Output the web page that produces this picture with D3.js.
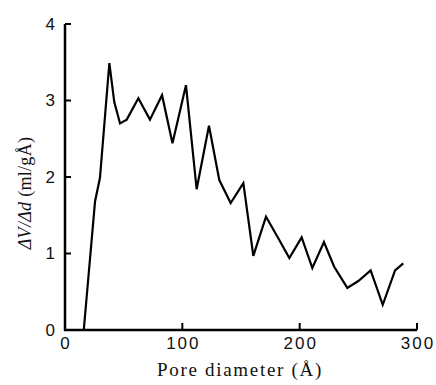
<!DOCTYPE html>
<html>
<head>
<meta charset="utf-8">
<script src="https://cdn.jsdelivr.net/npm/d3@7"></script>
<style>
  html, body { margin: 0; padding: 0; background: #fff; }
  .tick-label { font-family: "Liberation Sans", sans-serif; font-size: 17px; letter-spacing: 2px; fill: #111; }
  .axis-title { font-family: "Liberation Serif", "DejaVu Serif", serif; font-size: 19px; letter-spacing: 1.7px; fill: #111; }
  .y-title { font-family: "Liberation Serif", "DejaVu Serif", serif; font-size: 18px; letter-spacing: 0.3px; fill: #111; }
</style>
</head>
<body>
<div class="chart-container"></div>
<script>
document.addEventListener('DOMContentLoaded', function() {

    // pore diameter (Å) and dV/dd (ml/gÅ)
    const diameters = [0, 16, 25.6, 29.8, 37.8, 42, 46.9, 52.6, 62.5, 72.4, 82.7, 91.6, 103.1, 112.2, 122.7,
        131.5, 141.2, 152, 160.5, 171.3, 181.8, 191.2, 201.7, 210.8, 220.7, 229.3, 240.6, 250, 260.5,
        270.8, 281.3, 288.3];
    const dVdd = [0, 0, 1.68, 1.99, 3.49, 2.98, 2.70, 2.75, 3.03, 2.75, 3.07, 2.44, 3.20, 1.84, 2.67,
        1.96, 1.66, 1.92, 0.97, 1.48, 1.20, 0.94, 1.21, 0.81, 1.15, 0.83, 0.55, 0.64, 0.78,
        0.33, 0.78, 0.87];
    const xTicks = [0, 100, 200, 300];
    const yTicks = [0, 1, 2, 3, 4];

    const width = 436;
    const height = 385;

    const svg = d3.select(".chart-container")
        .append("svg")
        .attr("width", width)
        .attr("height", height);

    const x = d3.scaleLinear().domain([0, 300]).range([65, 417]);
    const y = d3.scaleLinear().domain([0, 4]).range([330, 24]);

    const data = diameters.map((d, i) => [d, dVdd[i]]);

    // curve
    svg.append("path")
        .datum(data)
        .attr("fill", "none")
        .attr("stroke", "#000")
        .attr("stroke-width", 2.2)
        .attr("stroke-linejoin", "miter")
        .attr("d", d3.line().x(d => x(d[0])).y(d => y(d[1])));

    // axes lines
    svg.append("line")
        .attr("x1", x(0)).attr("x2", x(0))
        .attr("y1", y(0) + 1).attr("y2", y(4))
        .attr("stroke", "#000").attr("stroke-width", 2.5);
    svg.append("line")
        .attr("x1", x(0) - 1).attr("x2", x(300))
        .attr("y1", y(0)).attr("y2", y(0))
        .attr("stroke", "#000").attr("stroke-width", 2.5);

    // y ticks (pointing inward)
    svg.append("g")
        .selectAll("line")
        .data(yTicks.slice(1))
        .join("line")
        .attr("x1", x(0)).attr("x2", x(0) + 6)
        .attr("y1", y).attr("y2", y)
        .attr("stroke", "#000").attr("stroke-width", 2);

    svg.append("g")
        .selectAll("text")
        .data(yTicks)
        .join("text")
        .attr("class", "tick-label")
        .attr("x", 57)
        .attr("y", d => y(d))
        .attr("dy", "0.35em")
        .attr("text-anchor", "end")
        .text(d => d);

    // x ticks (pointing up)
    svg.append("g")
        .selectAll("line")
        .data(xTicks.slice(1))
        .join("line")
        .attr("x1", x).attr("x2", x)
        .attr("y1", y(0)).attr("y2", y(0) - 7)
        .attr("stroke", "#000").attr("stroke-width", 2);

    svg.append("g")
        .selectAll("text")
        .data(xTicks)
        .join("text")
        .attr("class", "tick-label")
        .attr("x", d => x(d) + 1)
        .attr("y", 349)
        .attr("text-anchor", "middle")
        .text(d => d);

    // axis titles
    svg.append("text")
        .attr("class", "axis-title")
        .attr("x", 240)
        .attr("y", 376)
        .attr("text-anchor", "middle")
        .text("Pore diameter (Å)");

    const yTitle = svg.append("text")
        .attr("class", "y-title")
        .attr("transform", "translate(31,193) rotate(-90)")
        .attr("text-anchor", "middle");
    yTitle.append("tspan").attr("font-style", "italic").text("ΔV/Δd");
    yTitle.append("tspan").text(" (ml/gÅ)");
});
</script>
</body>
</html>
